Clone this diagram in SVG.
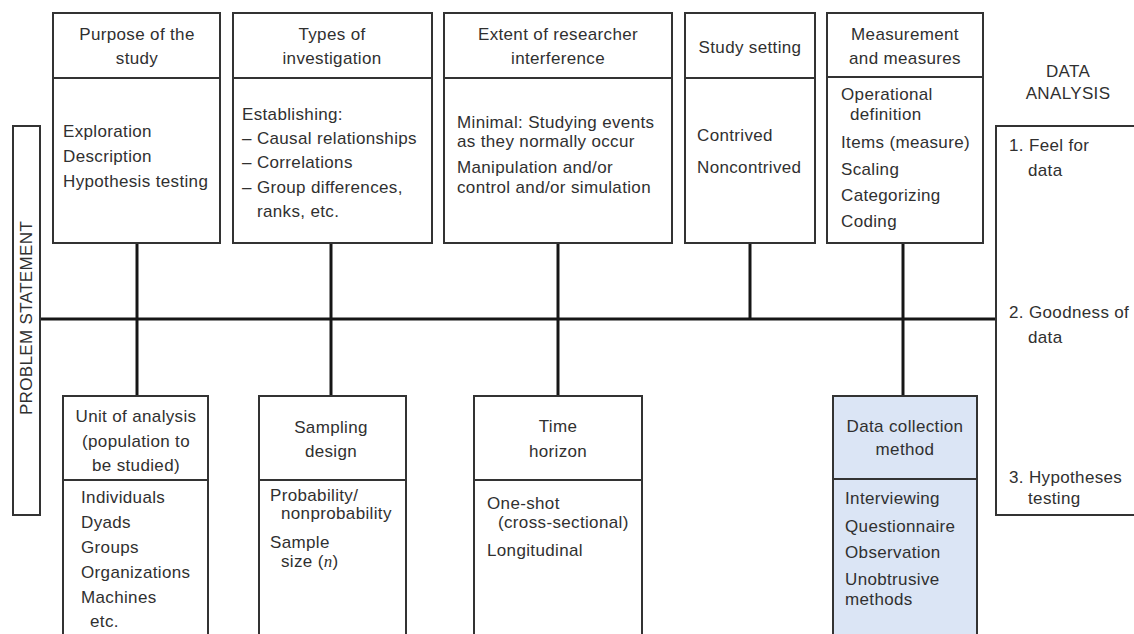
<svg xmlns="http://www.w3.org/2000/svg" width="1134" height="634" viewBox="0 0 1134 634">
  <style>
    text { font-family: "Liberation Sans", Arial, Helvetica, sans-serif; font-size: 17px; letter-spacing: 0.35px; fill: #303030; }
    .c { text-anchor: middle; }
    .box { fill: #ffffff; stroke: #333333; stroke-width: 2; }
    .blue { fill: #dbe5f5; stroke: #333333; stroke-width: 2; }
    .div { stroke: #333333; stroke-width: 2; }
    .link { stroke: #161616; stroke-width: 3; fill: none; }
  </style>

  <rect width="1134" height="634" fill="#ffffff"/>

  <!-- connectors: main spine and branches -->
  <g id="connectors">
    <line class="link" x1="40" y1="319" x2="996" y2="319"/>
    <line class="link" x1="137" y1="243" x2="137" y2="396"/>
    <line class="link" x1="331" y1="243" x2="331" y2="396"/>
    <line class="link" x1="558" y1="243" x2="558" y2="396"/>
    <line class="link" x1="750" y1="243" x2="750" y2="319"/>
    <line class="link" x1="903" y1="243" x2="903" y2="396"/>
  </g>

  <!-- left rail -->
  <g id="problem-statement">
    <rect class="box" x="13" y="126" width="27" height="389"/>
    <text class="c" transform="translate(32,318) rotate(-90)">PROBLEM STATEMENT</text>
  </g>

  <!-- right rail -->
  <g id="data-analysis">
    <text class="c" x="1068" y="77">DATA</text>
    <text class="c" x="1068" y="99">ANALYSIS</text>
    <rect class="box" x="996" y="126" width="150" height="389"/>
    <text x="1009" y="151">1. Feel for</text>
    <text x="1028" y="176">data</text>
    <text x="1009" y="318">2. Goodness of</text>
    <text x="1028" y="343">data</text>
    <text x="1009" y="483">3. Hypotheses</text>
    <text x="1028" y="504">testing</text>
  </g>

  <!-- top row -->
  <g id="purpose">
    <rect class="box" x="53" y="13" width="167" height="230"/>
    <line class="div" x1="53" y1="78" x2="220" y2="78"/>
    <text class="c" x="137" y="40">Purpose of the</text>
    <text class="c" x="137" y="64">study</text>
    <text x="63" y="137">Exploration</text>
    <text x="63" y="162">Description</text>
    <text x="63" y="187">Hypothesis testing</text>
  </g>

  <g id="investigation">
    <rect class="box" x="233" y="13" width="199" height="230"/>
    <line class="div" x1="233" y1="78" x2="432" y2="78"/>
    <text class="c" x="332" y="40">Types of</text>
    <text class="c" x="332" y="64">investigation</text>
    <text x="242" y="120">Establishing:</text>
    <text x="242" y="144">– Causal relationships</text>
    <text x="242" y="168">– Correlations</text>
    <text x="242" y="193">– Group differences,</text>
    <text x="257" y="217">ranks, etc.</text>
  </g>

  <g id="interference">
    <rect class="box" x="444" y="13" width="228" height="230"/>
    <line class="div" x1="444" y1="78" x2="672" y2="78"/>
    <text class="c" x="558" y="40">Extent of researcher</text>
    <text class="c" x="558" y="64">interference</text>
    <text x="457" y="128">Minimal: Studying events</text>
    <text x="457" y="147">as they normally occur</text>
    <text x="457" y="173">Manipulation and/or</text>
    <text x="457" y="193">control and/or simulation</text>
  </g>

  <g id="setting">
    <rect class="box" x="685" y="13" width="130" height="230"/>
    <line class="div" x1="685" y1="78" x2="815" y2="78"/>
    <text class="c" x="750" y="53">Study setting</text>
    <text x="697" y="141">Contrived</text>
    <text x="697" y="173">Noncontrived</text>
  </g>

  <g id="measurement">
    <rect class="box" x="827" y="13" width="156" height="230"/>
    <line class="div" x1="827" y1="77" x2="983" y2="77"/>
    <text class="c" x="905" y="40">Measurement</text>
    <text class="c" x="905" y="64">and measures</text>
    <text x="841" y="100">Operational</text>
    <text x="850" y="120">definition</text>
    <text x="841" y="148">Items (measure)</text>
    <text x="841" y="175">Scaling</text>
    <text x="841" y="201">Categorizing</text>
    <text x="841" y="227">Coding</text>
  </g>

  <!-- bottom row -->
  <g id="unit">
    <rect class="box" x="63" y="396" width="145" height="250"/>
    <line class="div" x1="63" y1="480" x2="208" y2="480"/>
    <text class="c" x="136" y="422">Unit of analysis</text>
    <text class="c" x="136" y="447">(population to</text>
    <text class="c" x="136" y="471">be studied)</text>
    <text x="81" y="503">Individuals</text>
    <text x="81" y="528">Dyads</text>
    <text x="81" y="553">Groups</text>
    <text x="81" y="578">Organizations</text>
    <text x="81" y="603">Machines</text>
    <text x="90" y="627">etc.</text>
  </g>

  <g id="sampling">
    <rect class="box" x="259" y="396" width="147" height="250"/>
    <line class="div" x1="259" y1="480" x2="406" y2="480"/>
    <text class="c" x="331" y="433">Sampling</text>
    <text class="c" x="331" y="457">design</text>
    <text x="270" y="501">Probability/</text>
    <text x="281" y="519">nonprobability</text>
    <text x="270" y="548">Sample</text>
    <text x="281" y="567">size (<tspan font-style="italic" font-family="Liberation Serif, serif">n</tspan>)</text>
  </g>

  <g id="time">
    <rect class="box" x="474" y="396" width="168" height="250"/>
    <line class="div" x1="474" y1="480" x2="642" y2="480"/>
    <text class="c" x="558" y="432">Time</text>
    <text class="c" x="558" y="457">horizon</text>
    <text x="487" y="509">One-shot</text>
    <text x="498" y="528">(cross-sectional)</text>
    <text x="487" y="556">Longitudinal</text>
  </g>

  <g id="collection">
    <rect class="blue" x="833" y="396" width="144" height="250"/>
    <line class="div" x1="833" y1="479" x2="977" y2="479"/>
    <text class="c" x="905" y="432">Data collection</text>
    <text class="c" x="905" y="455">method</text>
    <text x="845" y="504">Interviewing</text>
    <text x="845" y="532">Questionnaire</text>
    <text x="845" y="558">Observation</text>
    <text x="845" y="585">Unobtrusive</text>
    <text x="845" y="605">methods</text>
  </g>
</svg>
